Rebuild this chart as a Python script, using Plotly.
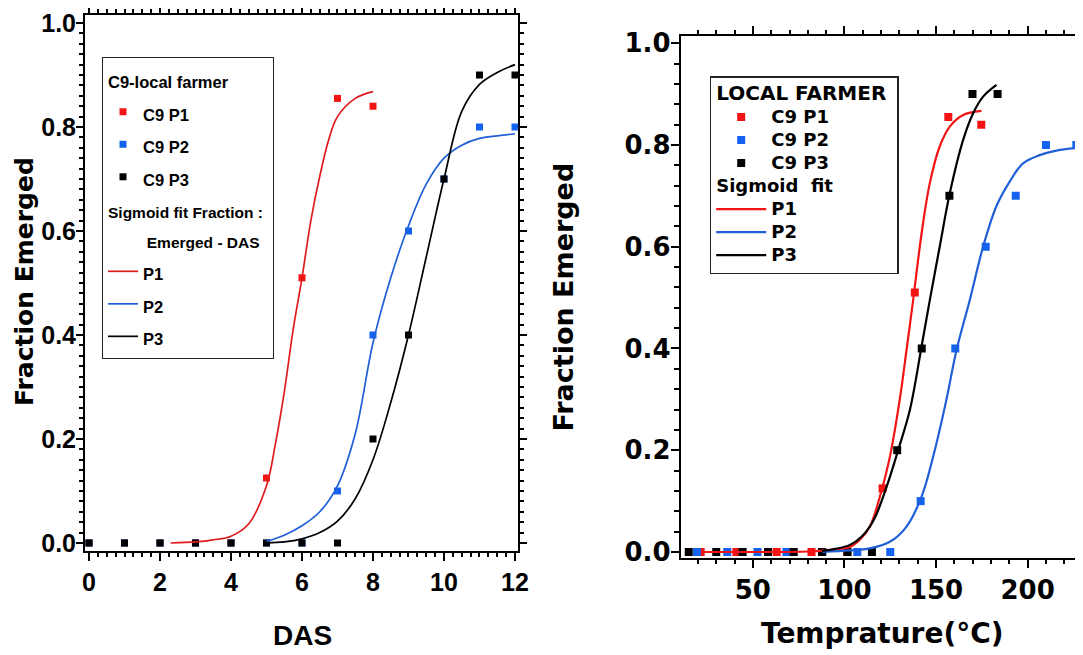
import plotly.graph_objects as go

# ---- left panel: fraction emerged vs days after sowing (DAS) ----
das_p1_x = [0, 1, 2, 3, 4, 5, 6, 7, 8]
das_p1_y = [0, 0, 0, 0, 0, 0.125, 0.51, 0.855, 0.84]
das_p2_x = [0, 1, 2, 3, 4, 5, 6, 7, 8, 9, 10, 11, 12]
das_p2_y = [0, 0, 0, 0, 0, 0, 0, 0.10, 0.40, 0.60, 0.70, 0.80, 0.80]
das_p3_x = [0, 1, 2, 3, 4, 5, 6, 7, 8, 9, 10, 11, 12]
das_p3_y = [0, 0, 0, 0, 0, 0, 0, 0, 0.20, 0.40, 0.70, 0.90, 0.90]

# sigmoid fit curves
fit_das_p1_x = [2.3, 3, 3.5, 4, 4.5, 5, 5.25, 5.5, 5.75, 6, 6.25, 6.5, 6.75, 7, 7.5, 8]
fit_das_p1_y = [0.0, 0.002, 0.006, 0.013, 0.037, 0.11, 0.19, 0.29, 0.41, 0.51, 0.62, 0.705, 0.775, 0.82, 0.855, 0.868]
fit_das_p2_x = [5, 5.5, 6, 6.5, 7, 7.5, 8, 8.5, 9, 9.5, 10, 10.5, 11, 11.5, 12]
fit_das_p2_y = [0.003, 0.015, 0.033, 0.06, 0.11, 0.21, 0.385, 0.51, 0.61, 0.69, 0.74, 0.765, 0.778, 0.783, 0.787]
fit_das_p3_x = [5, 5.5, 6, 6.5, 7, 7.5, 8, 8.5, 9, 9.5, 10, 10.5, 11, 11.5, 12]
fit_das_p3_y = [0.0, 0.002, 0.008, 0.02, 0.042, 0.085, 0.16, 0.27, 0.40, 0.55, 0.70, 0.83, 0.882, 0.905, 0.92]

# ---- right panel: fraction emerged vs temperature ----
temp_p1_x = [21.5, 41, 63, 82, 101.5, 120.8, 138.4, 156.7, 174.7]
temp_p1_y = [0, 0, 0, 0, 0, 0.125, 0.51, 0.855, 0.84]
temp_p2_x = [19.5, 36, 52.5, 68.3, 88, 107, 125, 141.6, 160.5, 177.1, 193.5, 210, 226.6]
temp_p2_y = [0, 0, 0, 0, 0, 0, 0, 0.10, 0.40, 0.60, 0.70, 0.80, 0.80]
temp_p3_x = [15, 30, 44.4, 58.3, 72.3, 87.7, 101.7, 115, 128.8, 142.2, 157.3, 169.9, 183.6]
temp_p3_y = [0, 0, 0, 0, 0, 0, 0, 0, 0.20, 0.40, 0.70, 0.90, 0.90]

fit_temp_p1_x = [21.5, 50, 80, 95, 103, 108.4, 113.9, 120.2, 124.8, 130.2, 134, 137.5, 142.1, 146.6, 152, 157.5, 164.8, 174.8]
fit_temp_p1_y = [0, 0, 0.001, 0.005, 0.010, 0.024, 0.05, 0.12, 0.187, 0.30, 0.40, 0.495, 0.626, 0.725, 0.797, 0.836, 0.859, 0.867]
fit_temp_p2_x = [88, 103, 113.8, 124.8, 133.9, 142.1, 149.3, 155.7, 161.2, 168.4, 175.7, 183, 190.2, 197.5, 206.6, 215.7, 226.6]
fit_temp_p2_y = [0.0, 0.003, 0.007, 0.020, 0.05, 0.109, 0.20, 0.30, 0.397, 0.495, 0.60, 0.68, 0.728, 0.764, 0.78, 0.789, 0.794]
fit_temp_p3_x = [87.7, 95, 103, 109.3, 116, 123, 129.3, 135.7, 142.1, 146.6, 152, 157.5, 164.8, 170.2, 175.7, 183]
fit_temp_p3_y = [0.002, 0.006, 0.014, 0.030, 0.063, 0.128, 0.20, 0.279, 0.404, 0.495, 0.60, 0.705, 0.81, 0.862, 0.895, 0.918]

RED_MK, BLUE_MK, BLACK = "#f21414", "#1463f0", "#000000"
RED_LN, BLUE_LN = "#e01b1b", "#1f5fd8"
ARIAL = "Liberation Sans, Arial, sans-serif"
WIDE = "DejaVu Sans, Verdana, sans-serif"

W, H = 1083, 655
OFF = 8  # page offset of the plot div


def px(x):
    return (x - OFF) / W


def py(y):
    return 1 - (y - OFF) / H


def span(text, size):
    return f'<span style="font-size:{size}px">{text}</span>'


fig = go.Figure()

for name, xs, ys, col in [("C9 P1", das_p1_x, das_p1_y, RED_MK),
                          ("C9 P2", das_p2_x, das_p2_y, BLUE_MK),
                          ("C9 P3", das_p3_x, das_p3_y, BLACK)]:
    fig.add_trace(go.Scatter(
        x=xs, y=ys, mode="markers", name=span(name, 16.5),
        marker=dict(symbol="square", size=7, color=col),
        legend="legend", legendgroup="das_data",
        legendgrouptitle=dict(text=span("C9-local farmer", 16.5)),
        xaxis="x", yaxis="y",
    ))

grp_title = span("Sigmoid fit Fraction :", 15.5) + "<br>" + span("\u00a0" * 9 + "Emerged - DAS", 15.5)
for name, xs, ys, col in [("P1", fit_das_p1_x, fit_das_p1_y, RED_LN),
                          ("P2", fit_das_p2_x, fit_das_p2_y, BLUE_LN),
                          ("P3", fit_das_p3_x, fit_das_p3_y, BLACK)]:
    fig.add_trace(go.Scatter(
        x=xs, y=ys, mode="lines", name=span(name, 16.5),
        line=dict(color=col, width=1.7, shape="spline"),
        legend="legend", legendgroup="das_fit",
        legendgrouptitle=dict(text=grp_title),
        xaxis="x", yaxis="y",
    ))

for name, xs, ys, col in [("C9 P1", temp_p1_x, temp_p1_y, RED_MK),
                          ("C9 P2", temp_p2_x, temp_p2_y, BLUE_MK),
                          ("C9 P3", temp_p3_x, temp_p3_y, BLACK)]:
    fig.add_trace(go.Scatter(
        x=xs, y=ys, mode="markers", name=span(name, 18),
        marker=dict(symbol="square", size=8, color=col),
        legend="legend2", legendgroup="temp_data",
        legendgrouptitle=dict(text=span("LOCAL FARMER", 20)),
        xaxis="x2", yaxis="y2",
    ))

for name, xs, ys, col in [("P1", fit_temp_p1_x, fit_temp_p1_y, RED_MK),
                          ("P2", fit_temp_p2_x, fit_temp_p2_y, BLUE_LN),
                          ("P3", fit_temp_p3_x, fit_temp_p3_y, BLACK)]:
    fig.add_trace(go.Scatter(
        x=xs, y=ys, mode="lines", name=span(name, 18),
        line=dict(color=col, width=2.2, shape="spline"),
        legend="legend2", legendgroup="temp_fit",
        legendgrouptitle=dict(text=span("Sigmoid\u00a0 fit", 18)),
        xaxis="x2", yaxis="y2",
    ))

# inside ticks do not show up in the renderer, so the comb goes outside, kept short
frame = dict(showline=True, linecolor="black", linewidth=2, mirror="ticks",
             ticks="outside", tickwidth=2, tickcolor="black",
             showgrid=False, zeroline=False)


def minor(dtick, ticklen, width):
    return dict(ticks="outside", dtick=dtick, ticklen=ticklen, tickwidth=width, tickcolor="black")


fig.update_layout(
    width=W, height=H,
    margin=dict(l=0, r=0, t=0, b=0, pad=0, autoexpand=False),
    paper_bgcolor="white", plot_bgcolor="white",
    xaxis=dict(**frame, domain=[px(85), px(518)], range=[-0.113, 12.085], anchor="y",
               tick0=0, dtick=2, ticklen=8, minor=minor(0.25, 4, 1.5),
               tickfont=dict(family=ARIAL, size=25, color="black", weight="bold")),
    yaxis=dict(**frame, domain=[py(551), py(15)], range=[-0.0154, 1.0154], anchor="x",
               tick0=0, dtick=0.2, tickformat=".1f", ticklen=7, minor=minor(0.02, 4, 1.5),
               ticklabelstandoff=-5,
               tickfont=dict(family=ARIAL, size=25, color="black", weight="bold")),
    xaxis2=dict(**frame, domain=[px(680.7), 1.0], range=[10.6, 234.6], anchor="y2",
                tick0=0, dtick=50, ticklen=8, minor=minor(10, 4, 2),
                tickfont=dict(family=WIDE, size=26, color="black", weight="bold")),
    yaxis2=dict(**frame, domain=[py(558), py(36)], range=[-0.0118, 1.0142], anchor="x2",
                tick0=0, dtick=0.2, tickformat=".1f", ticklen=8, minor=minor(0.04, 5, 2),
                ticklabelstandoff=-5,
                tickfont=dict(family=WIDE, size=26, color="black", weight="bold")),
    legend=dict(x=px(102), y=py(57), xanchor="left", yanchor="top",
                bgcolor="white", bordercolor="#222", borderwidth=1,
                font=dict(family=ARIAL, size=22.7, color="black", weight="bold"),
                grouptitlefont=dict(family=ARIAL, size=22.7, color="black", weight="bold"),
                tracegroupgap=0, traceorder="grouped"),
    legend2=dict(x=px(709.7), y=py(76), xanchor="left", yanchor="top",
                 bgcolor="white", bordercolor="#222", borderwidth=1.5,
                 font=dict(family=WIDE, size=15.4, color="black", weight="bold"),
                 grouptitlefont=dict(family=WIDE, size=15.4, color="black", weight="bold"),
                 tracegroupgap=0, traceorder="grouped", itemwidth=50),
    annotations=[
        dict(text="Fraction Emerged", x=px(24), y=py(282), xref="paper", yref="paper",
             textangle=-90, showarrow=False, xanchor="center", yanchor="middle",
             font=dict(family=WIDE, size=25, color="black", weight="bold")),
        dict(text="DAS", x=px(302), y=py(635), xref="paper", yref="paper",
             showarrow=False, xanchor="center", yanchor="middle",
             font=dict(family=ARIAL, size=28, color="black", weight="bold")),
        dict(text="Fraction Emerged", x=px(562.5), y=py(297), xref="paper", yref="paper",
             textangle=-90, showarrow=False, xanchor="center", yanchor="middle",
             font=dict(family=WIDE, size=27, color="black", weight="bold")),
        dict(text="Temprature(°C)", x=px(883), y=py(633), xref="paper", yref="paper",
             showarrow=False, xanchor="center", yanchor="middle",
             font=dict(family=WIDE, size=28, color="black", weight="bold")),
    ],
)

fig.write_html("out.html")
